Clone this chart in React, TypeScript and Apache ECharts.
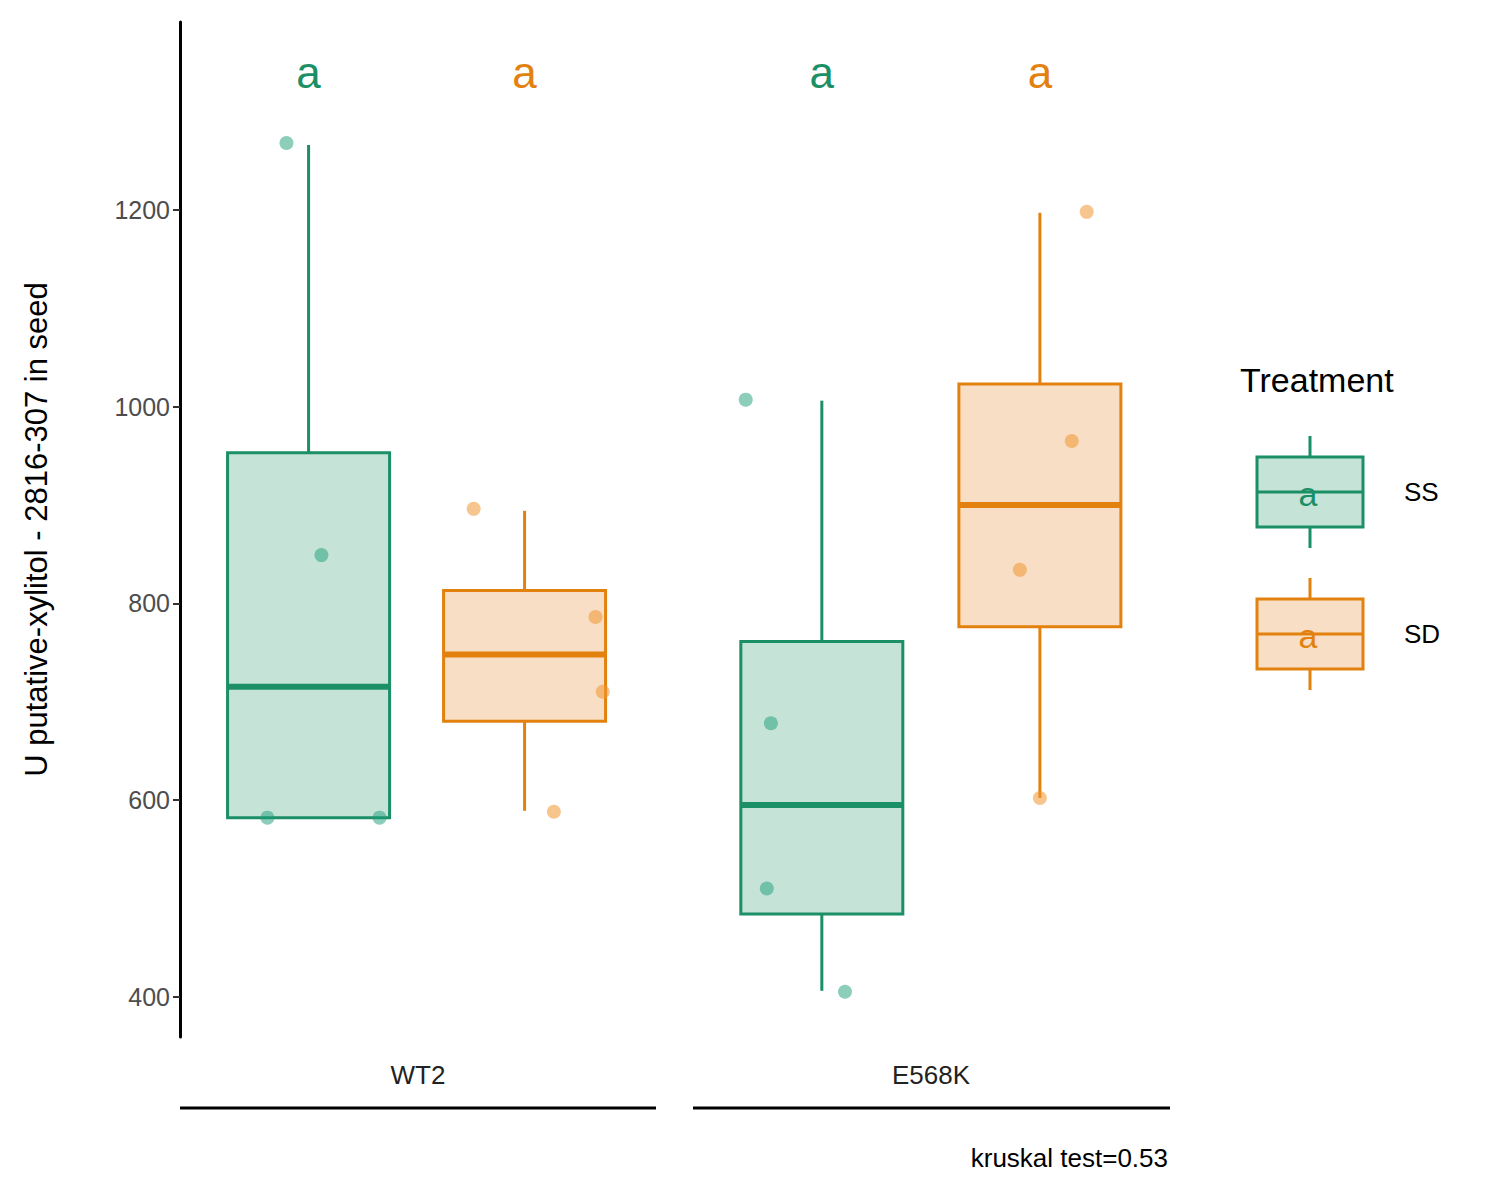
import React, { useEffect, useRef } from "react";
import * as echarts from "echarts";

const groups = ["WT2", "E568K"];
const treatments = ["SS", "SD"];
const colors = ["#1b8f66", "#e3810f"];
const fills = ["#c6e3d8", "#f8dec4"];
const pointColors = ["rgba(27,158,119,0.5)", "rgba(240,150,50,0.55)"];
// box stats: [xCenter, low, q1, median, q3, high, treatmentIdx]
const boxes = [
  [0.79, 582, 582, 715, 953, 1266, 0],
  [1.21, 589, 680, 748, 813, 894, 1],
  [1.788, 406, 484, 595, 761, 1006, 0],
  [2.212, 602, 776, 900, 1023, 1197, 1],
];
const ssPoints = [
  [0.747, 1268], [0.815, 849], [0.71, 582], [0.928, 582],
  [1.64, 1007], [1.689, 678], [1.681, 510], [1.833, 405],
];
const sdPoints = [
  [1.111, 896], [1.348, 786], [1.362, 710], [1.267, 588],
  [2.303, 1198], [2.274, 965], [2.173, 834], [2.212, 602],
];
const letters = [
  [0.79, 1340, "a", 0], [1.21, 1340, "a", 1], [1.788, 1340, "a", 0], [2.212, 1340, "a", 1],
];
const yTicks = [400, 600, 800, 1000, 1200];

export default function App() {
  const ref = useRef<HTMLDivElement>(null);
  useEffect(() => {
    const chart = echarts.init(ref.current!, null, { renderer: "svg" });
    const font = "Liberation Sans";
    const txt = (x: number, y: number, text: string, size: number, fill: string, align = "left") => ({
      type: "text", x, y,
      style: { text, fill, fontSize: size, fontFamily: font, textAlign: align, textVerticalAlign: "middle" },
    });
    const legendItem = (i: number, cy: number) => [
      { type: "line", shape: { x1: 1310, y1: cy - 56, x2: 1310, y2: cy + 56 }, style: { stroke: colors[i], lineWidth: 3 } },
      { type: "rect", shape: { x: 1257, y: cy - 35, width: 106, height: 70 }, style: { fill: fills[i], stroke: colors[i], lineWidth: 3 } },
      { type: "line", shape: { x1: 1257, y1: cy, x2: 1363, y2: cy }, style: { stroke: colors[i], lineWidth: 3 } },
      txt(1308, cy + 2, "a", 34, colors[i], "center"),
      txt(1404, cy, treatments[i], 26, "#000"),
    ];
    chart.setOption({
      animation: false,
      grid: { left: 180, right: 330, top: 22, bottom: 163 },
      xAxis: { type: "value", min: 0.54, max: 2.465, show: false },
      yAxis: {
        type: "value", min: 359, max: 1391,
        name: "U putative-xylitol - 2816-307 in seed", nameLocation: "middle", nameGap: 128,
        nameTextStyle: { fontSize: 31, color: "#000", fontFamily: font },
        axisLine: { show: true, lineStyle: { color: "#000", width: 3 } },
        axisTick: { show: true, length: 7, customValues: yTicks, lineStyle: { color: "#333", width: 2 } },
        axisLabel: { customValues: yTicks, formatter: (v: number) => String(v), fontSize: 25, color: "#4d4d4d", fontFamily: font, margin: 10 },
        splitLine: { show: false },
      },
      series: [
        {
          type: "custom", data: boxes,
          renderItem: (params: any, api: any) => {
            const x = api.value(0), i = api.value(6);
            const w = api.size([0.315, 0])[0];
            const [cx, yl] = api.coord([x, api.value(1)]);
            const yq1 = api.coord([x, api.value(2)])[1];
            const ym = api.coord([x, api.value(3)])[1];
            const yq3 = api.coord([x, api.value(4)])[1];
            const yh = api.coord([x, api.value(5)])[1];
            const st = { stroke: colors[i], lineWidth: 3 };
            return {
              type: "group", children: [
                { type: "line", shape: { x1: cx, y1: yl, x2: cx, y2: yq1 }, style: st },
                { type: "line", shape: { x1: cx, y1: yq3, x2: cx, y2: yh }, style: st },
                { type: "rect", shape: { x: cx - w / 2, y: yq3, width: w, height: yq1 - yq3 }, style: { fill: fills[i], stroke: colors[i], lineWidth: 3 } },
                { type: "line", shape: { x1: cx - w / 2, y1: ym, x2: cx + w / 2, y2: ym }, style: { stroke: colors[i], lineWidth: 6 } },
              ],
            };
          },
        },
        { type: "scatter", data: ssPoints, symbolSize: 14, itemStyle: { color: pointColors[0], opacity: 1 } },
        { type: "scatter", data: sdPoints, symbolSize: 14, itemStyle: { color: pointColors[1], opacity: 1 } },
        {
          type: "scatter", symbolSize: 1, itemStyle: { color: "rgba(0,0,0,0)", opacity: 1 },
          data: letters.map((l) => ({
            value: [l[0], l[1]],
            label: { show: true, position: "inside", formatter: l[2] as string, color: colors[l[3] as number], fontSize: 44, fontFamily: font },
          })),
        },
      ],
      graphic: [
        txt(418, 1075, groups[0], 26, "#222", "center"),
        txt(931, 1075, groups[1], 26, "#222", "center"),
        { type: "line", shape: { x1: 180, y1: 1108, x2: 656, y2: 1108 }, style: { stroke: "#000", lineWidth: 3 } },
        { type: "line", shape: { x1: 693, y1: 1108, x2: 1170, y2: 1108 }, style: { stroke: "#000", lineWidth: 3 } },
        txt(1168, 1158, "kruskal test=0.53", 26, "#000", "right"),
        txt(1240, 380, "Treatment", 34, "#000"),
        ...legendItem(0, 492),
        ...legendItem(1, 634),
      ],
    });
    return () => chart.dispose();
  }, []);
  return <div ref={ref} style={{ width: 1500, height: 1200, margin: -8 }} />;
}
